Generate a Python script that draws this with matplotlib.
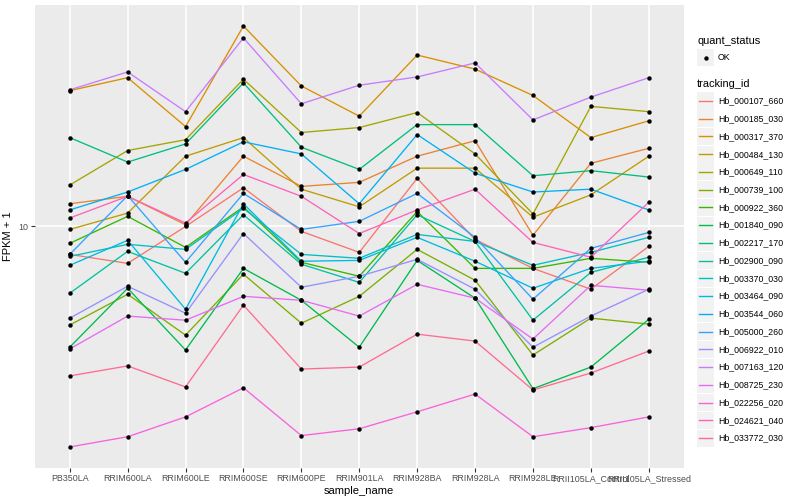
import matplotlib
matplotlib.use("Agg")
import matplotlib.pyplot as plt
from matplotlib.patches import Rectangle
from matplotlib.lines import Line2D
from matplotlib.ticker import NullLocator
import numpy as np

plt.rcParams["font.family"] = ["Liberation Sans", "DejaVu Sans"]

samples = ["PB350LA", "RRIM600LA", "RRIM600LE", "RRIM600SE", "RRIM600PE",
           "RRIM901LA", "RRIM928BA", "RRIM928LA", "RRIM928LE",
           "RRII105LA_Control", "RRII105LA_Stressed"]

tracking_ids = ["Hb_000107_660", "Hb_000185_030", "Hb_000317_370", "Hb_000484_130",
                "Hb_000649_110", "Hb_000739_100", "Hb_000922_360", "Hb_001840_090",
                "Hb_002217_170", "Hb_002900_090", "Hb_003370_030", "Hb_003464_090",
                "Hb_003544_060", "Hb_005000_260", "Hb_006922_010", "Hb_007163_120",
                "Hb_008725_230", "Hb_022256_020", "Hb_024621_040", "Hb_033772_030"]

# ggplot hue palette, 20 levels
colors = ["#F8766D", "#EA8331", "#D89000", "#C09B00", "#A3A500", "#7CAE00",
          "#39B600", "#00BB4E", "#00BF7D", "#00C1A3", "#00BFC4", "#00BAE0",
          "#00B0F6", "#35A2FF", "#9590FF", "#C77CFF", "#E76BF3", "#FA62DB",
          "#FF62BC", "#FF6C91"]

# FPKM + 1, one list per gene, in sample order
hb_000107_660 = [8.51, 8.08, 10.0, 12.5, 9.72, 8.61, 13.2, 9.28, 7.85, 6.96, 8.91]
hb_000185_030 = [11.4, 11.9, 10.1, 15.0, 12.6, 12.9, 15.0, 16.4, 9.50, 14.4, 15.7]
hb_000317_370 = [21.9, 23.6, 17.8, 31.8, 22.5, 18.9, 26.9, 24.8, 21.3, 16.7, 18.4]
hb_000484_130 = [9.83, 10.8, 15.0, 16.7, 12.4, 11.2, 14.0, 14.0, 10.55, 12.0, 15.0]
hb_000649_110 = [12.7, 15.5, 16.5, 23.4, 17.2, 17.7, 19.3, 15.2, 10.75, 20.0, 19.4]
hb_000739_100 = [5.66, 6.76, 5.34, 7.59, 5.72, 6.68, 8.76, 7.33, 4.76, 5.89, 5.69]
hb_000922_360 = [9.07, 10.6, 8.86, 11.2, 8.13, 7.50, 10.9, 7.85, 7.85, 8.32, 8.13]
hb_001840_090 = [4.98, 7.00, 4.90, 7.85, 6.53, 4.98, 8.22, 6.61, 3.92, 4.44, 5.85]
hb_002217_170 = [16.7, 14.5, 16.1, 22.9, 15.8, 13.9, 18.0, 18.0, 13.4, 13.8, 13.3]
hb_002900_090 = [6.80, 8.66, 7.63, 10.7, 8.04, 7.24, 10.7, 9.17, 5.82, 7.67, 8.37]
hb_003370_030 = [8.41, 9.02, 8.76, 11.1, 8.51, 8.32, 9.55, 9.17, 7.99, 8.61, 9.39]
hb_003464_090 = [7.99, 9.23, 6.20, 11.4, 8.18, 8.22, 9.39, 8.18, 7.00, 7.85, 8.18]
hb_003544_060 = [11.0, 12.2, 13.9, 16.3, 15.2, 11.4, 17.0, 13.6, 12.2, 12.4, 11.0]
hb_005000_260 = [8.51, 11.95, 8.13, 12.1, 9.83, 10.3, 12.1, 9.39, 6.57, 8.81, 9.66]
hb_006922_010 = [5.89, 7.08, 6.06, 9.60, 7.04, 7.50, 8.27, 6.96, 4.98, 5.96, 6.96]
hb_007163_120 = [22.0, 24.4, 19.4, 29.7, 20.3, 22.6, 23.7, 25.7, 18.5, 21.1, 23.6]
hb_008725_230 = [4.93, 5.96, 5.82, 6.68, 6.53, 5.96, 7.16, 6.61, 5.22, 7.12, 6.92]
hb_022256_020 = [2.80, 2.97, 3.33, 3.94, 2.99, 3.11, 3.43, 3.80, 2.97, 3.13, 3.33]
hb_024621_040 = [10.5, 11.9, 10.2, 13.5, 11.9, 9.60, 11.0, 12.4, 9.12, 8.37, 11.5]
hb_033772_030 = [4.22, 4.47, 3.96, 6.35, 4.39, 4.44, 5.37, 5.16, 3.89, 4.29, 4.87]

series = [hb_000107_660, hb_000185_030, hb_000317_370, hb_000484_130,
          hb_000649_110, hb_000739_100, hb_000922_360, hb_001840_090,
          hb_002217_170, hb_002900_090, hb_003370_030, hb_003464_090,
          hb_003544_060, hb_005000_260, hb_006922_010, hb_007163_120,
          hb_008725_230, hb_022256_020, hb_024621_040, hb_033772_030]

W, H = 800, 500


def fx(px):
    return px / W


def fy(py):
    return 1 - py / H


fig = plt.figure(figsize=(8, 5), dpi=100)
ax = fig.add_axes([fx(35), fy(468), fx(683.5) - fx(35), fy(5) - fy(468)])
ax.set_facecolor("#EBEBEB")
ax.set_yscale("log")

x = np.arange(len(samples))
for vals, col in zip(series, colors):
    ax.plot(x, vals, color=col, lw=0.95, zorder=2)
for vals in series:
    ax.plot(x, vals, "o", color="black", ms=3.2, mec="none", zorder=3)

ax.set_xlim(-0.6, len(samples) - 1 + 0.6)
allv = np.concatenate([np.array(s) for s in series])
lo, hi = np.log10(allv.min()), np.log10(allv.max())
pad = 0.05 * (hi - lo)
ax.set_ylim(10 ** (lo - pad), 10 ** (hi + pad))

ax.set_yticks([10], ["10"])
ax.yaxis.set_minor_locator(NullLocator())
ax.set_xticks(x, samples)
ax.grid(True, which="major", color="white", lw=1.1)
ax.set_axisbelow(True)
for s in ax.spines.values():
    s.set_visible(False)
ax.tick_params(length=3, width=0.8, color="#333333", labelcolor="#4D4D4D",
               labelsize=6.4, pad=1.5)
ax.set_xlabel("sample_name", fontsize=8, labelpad=2)
ax.set_ylabel("FPKM + 1", fontsize=8)
ax.yaxis.set_label_coords((13 - 35) / 648.5, 0.5)

# legend, drawn by hand in figure pixels
fig.text(fx(697), fy(41), "quant_status", fontsize=7.9, va="center")
fig.add_artist(Rectangle((fx(697), fy(66)), fx(17), 17 / H, facecolor="#F2F2F2",
                         edgecolor="none", transform=fig.transFigure))
fig.add_artist(Line2D([fx(705.5)], [fy(57.5)], marker="o", color="black", ms=3.2,
                      mec="none", transform=fig.transFigure))
fig.text(fx(718), fy(57.5), "OK", fontsize=6.3, va="center")

fig.text(fx(697), fy(84), "tracking_id", fontsize=7.9, va="center")
for i, (name, col) in enumerate(zip(tracking_ids, colors)):
    cy = 101 + i * 17.74
    fig.add_artist(Rectangle((fx(697), fy(cy + 8.5)), fx(17), 17 / H,
                             facecolor="#F2F2F2", edgecolor="none",
                             transform=fig.transFigure))
    fig.add_artist(Line2D([fx(698.7), fx(712.3)], [fy(cy), fy(cy)], color=col,
                          lw=1.0, transform=fig.transFigure))
    fig.text(fx(718), fy(cy), name, fontsize=6.3, va="center")

fig.savefig("out.png", dpi=100)
